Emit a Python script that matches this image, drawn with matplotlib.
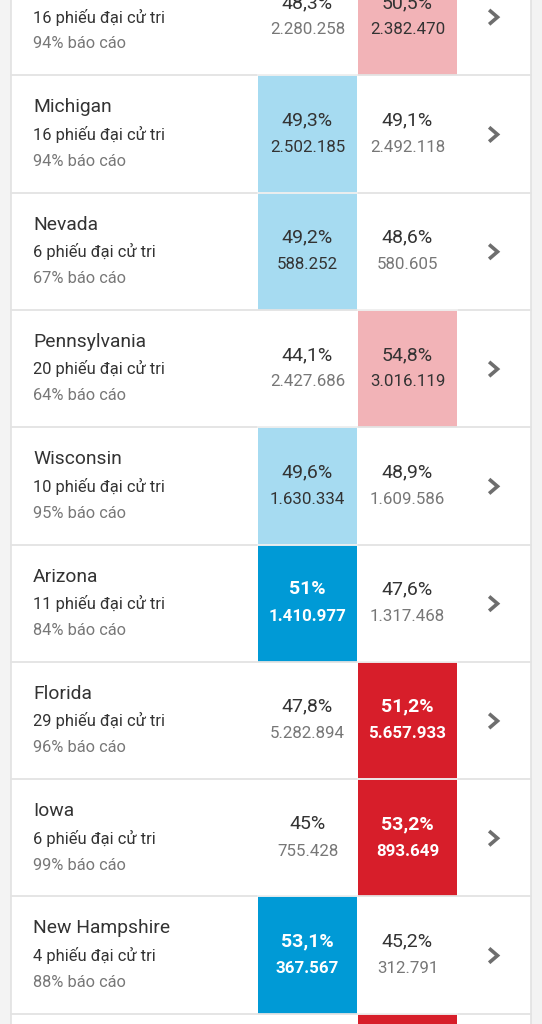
import matplotlib
matplotlib.use("Agg")
import matplotlib.pyplot as plt
from matplotlib.patches import Rectangle

plt.rcParams['font.family'] = ['Roboto', 'DejaVu Sans']

# data
states = ["Georgia", "Michigan", "Nevada", "Pennsylvania", "Wisconsin",
          "Arizona", "Florida", "Iowa", "New Hampshire"]
electors = [16, 16, 6, 20, 10, 11, 29, 6, 4]
reported = [94, 94, 67, 64, 95, 84, 96, 99, 88]
dem_pct = ["48,3", "49,3", "49,2", "44,1", "49,6", "51", "47,8", "45", "53,1"]
rep_pct = ["50,5", "49,1", "48,6", "54,8", "48,9", "47,6", "51,2", "53,2", "45,2"]
dem_votes = [2280258, 2502185, 588252, 2427686, 1630334, 1410977, 5282894, 755428, 367567]
rep_votes = [2382470, 2492118, 580605, 3016119, 1609586, 1317468, 5657933, 893649, 312791]
# who leads and whether the race is called (last entry: row cut off at bottom)
leader = ["rep", "dem", "dem", "rep", "dem", "dem", "rep", "rep", "dem", "rep"]
called = [False, False, False, False, False, True, True, True, True, True]

# layout (pixels)
W, H = 542, 1024
card_l, card_r = 11, 531
row_h = 117.3
first_top = -42
col_x = {"dem": (258, 357), "rep": (358, 457)}
fills = {("dem", False): "#a6dbf1", ("rep", False): "#f2b3b7",
         ("dem", True): "#009ad6", ("rep", True): "#d71e2a"}
dark, grey = "#333333", "#777777"


def fmt(v):
    return f"{v:,}".replace(",", ".")


fig = plt.figure(figsize=(W / 100, H / 100), dpi=100)
fig.patch.set_facecolor("#f3f3f3")
ax = fig.add_axes([0, 0, 1, 1])
ax.set_xlim(0, W)
ax.set_ylim(H, 0)
ax.axis("off")

ax.add_patch(Rectangle((card_l, -10), card_r - card_l, H + 20, facecolor="white",
                       edgecolor="#e2e2e2", lw=1.2, zorder=0))

for i in range(len(leader)):
    top = first_top + i * row_h
    x0, x1 = col_x[leader[i]]
    ax.add_patch(Rectangle((x0, top), x1 - x0, row_h,
                           facecolor=fills[(leader[i], called[i])], lw=0, zorder=1))
    # divider
    ax.plot([card_l, card_r], [top, top], color="#e3e3e3", lw=1.3, zorder=2)
    ax.plot([x0, x1], [top, top], color="white", lw=1.3, alpha=0.45, zorder=3)

    if i >= len(states):
        continue
    ax.text(33, top + 32, states[i], fontsize=13.9, color=dark, va="center", ha="left")
    ax.text(33, top + 59, f"{electors[i]} phiếu đại cử tri", fontsize=11.9,
            color=dark, va="center", ha="left")
    ax.text(33, top + 86, f"{reported[i]}% báo cáo", fontsize=11.8,
            color=grey, va="center", ha="left")

    for party, pct, votes in (("dem", dem_pct[i], dem_votes[i]),
                              ("rep", rep_pct[i], rep_votes[i])):
        cx = sum(col_x[party]) / 2
        if party == leader[i] and called[i]:
            c1 = c2 = "white"
            wt = "bold"
        elif party == leader[i]:
            c1, c2, wt = dark, dark, "normal"
        else:
            c1, c2, wt = dark, grey, "normal"
        ax.text(cx, top + 45, f"{pct}%", fontsize=14, color=c1, weight=wt,
                ha="center", va="center")
        ax.text(cx, top + 72, fmt(votes), fontsize=12.2, color=c2, weight=wt,
                ha="center", va="center")

    # chevron
    cy = top + row_h / 2 + 0.5
    ax.plot([490.5, 497.5, 490.5], [cy - 6, cy, cy + 6], color="#6e6e6e", lw=2.6,
            solid_joinstyle="miter", zorder=3)

fig.savefig("out.png", dpi=100, facecolor=fig.get_facecolor())
